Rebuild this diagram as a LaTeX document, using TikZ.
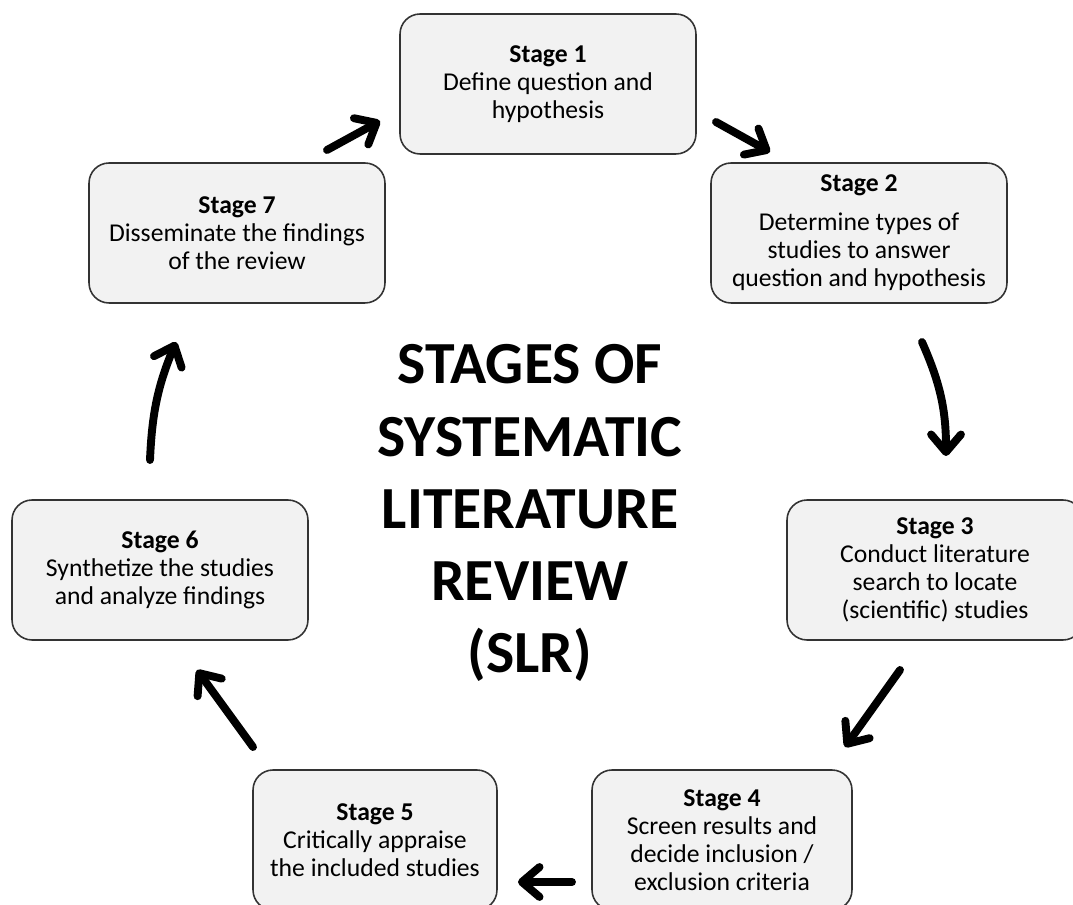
\documentclass[tikz,border=0pt]{standalone}
\usepackage{fontspec}
\setmainfont{Carlito}
\usetikzlibrary{arrows.meta}

\tikzset{
  stagebox/.style={draw=black!80, line width=0.9pt, fill=black!5,
    rounded corners=0.4cm, minimum width=5.92cm, minimum height=2.8cm,
    align=center, inner sep=2pt, font=\fontsize{14.6}{16}\selectfont},
  flow/.style={line width=4.5pt, line cap=round,
    -{Straight Barb[length=10pt,width=17pt,line cap=round,line join=round]}},
}

\begin{document}
\begin{tikzpicture}[x=0.02cm, y=-0.02cm]

\useasboundingbox (0,0) rectangle (1073,905);
\clip (0,0) rectangle (1073,905);

% ============================================
% STAGES
% ============================================
\node[stagebox] (s1) at (548,84)
  {\textbf{Stage 1}\\Define question and\\hypothesis};
\node[stagebox] (s2) at (859,233)
  {\textbf{Stage 2}\\[6pt]Determine types of\\studies to answer\\question and hypothesis};
\node[stagebox] (s3) at (935,570)
  {\textbf{Stage 3}\\Conduct literature\\search to locate\\(scientific) studies};
\node[stagebox, minimum width=5.2cm] (s4) at (722,840)
  {\textbf{Stage 4}\\Screen results and\\decide inclusion /\\exclusion criteria};
\node[stagebox, minimum width=4.88cm] (s5) at (375,840)
  {\textbf{Stage 5}\\Critically appraise\\the included studies};
\node[stagebox] (s6) at (160,570)
  {\textbf{Stage 6}\\Synthetize the studies\\and analyze findings};
\node[stagebox] (s7) at (237,233)
  {\textbf{Stage 7}\\Disseminate the findings\\of the review};

% ============================================
% TITLE
% ============================================
\node[align=center, font=\bfseries\fontsize{34}{41}\selectfont] (title) at (530,513)
  {STAGES OF\\SYSTEMATIC\\LITERATURE\\REVIEW\\(SLR)};

% ============================================
% ARROWS
% ============================================
\coordinate (a12) at (716,122);
\coordinate (b12) at (770,152);
\coordinate (a23) at (922,342);
\coordinate (b23) at (946,456);
\coordinate (a34) at (900,670);
\coordinate (b34) at (845,747);
\coordinate (a45) at (572,882);
\coordinate (b45) at (518,882);
\coordinate (a56) at (253,747);
\coordinate (b56) at (197,670);
\coordinate (a67) at (150,460);
\coordinate (b67) at (176,342);
\coordinate (a71) at (327,150);
\coordinate (b71) at (380,121);

\draw[flow] (a12) -- (b12);
\draw[flow] (a23) to[bend left=12] (b23);
\draw[flow] (a34) -- (b34);
\draw[flow] (a45) -- (b45);
\draw[flow] (a56) -- (b56);
\draw[flow] (a67) to[bend left=10] (b67);
\draw[flow] (a71) -- (b71);

\end{tikzpicture}
\end{document}
